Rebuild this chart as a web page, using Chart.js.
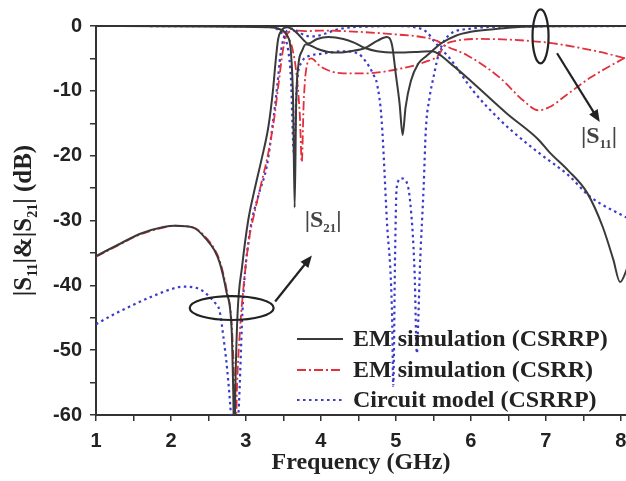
<!DOCTYPE html>
<html>
<head>
<meta charset="utf-8">
<title>S-parameters CSRRP</title>
<script src="https://cdn.jsdelivr.net/npm/chart.js@4.4.1/dist/chart.umd.min.js"></script>
<style>
  html, body { margin: 0; padding: 0; background: #fff; overflow: hidden; }
  #wrap { width: 626px; height: 481px; }
</style>
</head>
<body>
<div id="wrap"><canvas id="chart" width="626" height="481"></canvas></div>
<script>
// ── DATA ─────────────────────────────────────────────────────
const legendLabels = ['EM simulation (CSRRP)', 'EM simulation (CSRR)', 'Circuit model (CSRRP)'];
const xTickValues = [1, 1.5, 2, 2.5, 3, 3.5, 4, 4.5, 5, 5.5, 6, 6.5, 7, 7.5, 8];
const yTickValues = [-60, -55, -50, -45, -40, -35, -30, -25, -20, -15, -10, -5, 0];

// EM simulation (CSRRP) - black solid
const emCsrrpS21Freq = [1, 1.3, 1.6, 1.9, 2.05, 2.3, 2.48, 2.58, 2.65, 2.74, 2.81, 2.83, 2.845, 2.86, 2.89, 2.95, 3.03, 3.12, 3.21, 3.3, 3.36, 3.4, 3.43, 3.48, 3.55, 3.62, 3.7, 3.78, 3.83, 3.95, 4.1, 4.3, 4.45, 4.59, 4.75, 5.0, 5.25, 5.48, 5.75, 6.03, 6.48, 6.9, 7.05, 7.3, 7.55, 7.76, 7.9, 7.99, 8.1];
const emCsrrpS21 = [-35.5, -33.7, -32.0, -31.0, -30.8, -31.1, -33, -34.6, -36.5, -41, -47, -56, -65, -55, -44, -37, -30, -25, -20.5, -15.5, -10, -5, -2, -0.6, -0.2, -0.5, -1.3, -2.3, -2.7, -2.0, -1.7, -2.0, -2.6, -3.4, -3.9, -4.1, -4.0, -3.9, -6, -8.8, -13.5, -17.5, -19.5, -22.3, -25.7, -31, -36, -39.5, -37];
const emCsrrpS11Freq = [1, 3.3, 3.45, 3.55, 3.6, 3.63, 3.65, 3.67, 3.7, 3.75, 3.8, 3.95, 4.1, 4.25, 4.4, 4.59, 4.75, 4.88, 4.95, 5.0, 5.05, 5.09, 5.13, 5.2, 5.3, 5.4, 5.48, 5.6, 5.8, 6.0, 6.3, 6.6, 7.0, 8.1];
const emCsrrpS11 = [0, -0.2, -0.5, -1.5, -4, -12, -28, -12, -6, -3.8, -2.8, -3.5, -4.0, -4.1, -3.9, -3.4, -2.3, -1.7, -3, -7.5, -12, -16.8, -12.5, -8.5, -5.8, -4.7, -3.9, -2.7, -1.5, -0.9, -0.5, -0.2, -0.05, 0];

// EM simulation (CSRR) - red dash-dot
const emCsrrS21Freq = [1, 1.3, 1.6, 1.9, 2.05, 2.3, 2.48, 2.58, 2.65, 2.74, 2.81, 2.84, 2.86, 2.88, 2.92, 2.97, 3.04, 3.12, 3.2, 3.3, 3.38, 3.44, 3.49, 3.53, 3.6, 3.7, 3.8, 4.0, 4.5, 5.0, 5.4, 5.55, 5.65, 5.95, 6.39, 6.7, 6.9, 7.05, 7.28, 7.59, 8.1];
const emCsrrS21 = [-35.6, -33.8, -32.1, -31.1, -30.8, -31.1, -32.8, -34.4, -36.2, -40.5, -46, -54, -65, -56, -47, -40, -33, -28.5, -24.5, -19.5, -14, -8.5, -4, -1.8, -0.8, -0.7, -0.8, -0.7, -0.9, -1.3, -1.8, -2.3, -3, -4.5, -8, -11.5, -13, -12.5, -10.6, -8, -4.6];
const emCsrrS11Freq = [1, 3.3, 3.45, 3.55, 3.62, 3.68, 3.72, 3.745, 3.77, 3.8, 3.87, 4.0, 4.3, 4.6, 5.05, 5.4, 5.57, 5.65, 5.8, 6.1, 6.5, 7.05, 7.72, 8.1];
const emCsrrS11 = [0, -0.1, -0.5, -1.5, -3.5, -8, -14, -21, -12, -7, -5, -6.3, -7.3, -7.3, -6.6, -5.5, -4.5, -3, -2.3, -2.0, -2.1, -2.6, -4, -5.1];

// Circuit model (CSRRP) - blue dotted
const circuitS21Freq = [1, 1.25, 1.5, 1.75, 2.0, 2.16, 2.3, 2.4, 2.5, 2.58, 2.65, 2.7, 2.75, 2.8, 2.84, 2.9, 2.96, 3.05, 3.17, 3.28, 3.37, 3.42, 3.46, 3.5, 3.55, 3.62, 3.7, 3.8, 3.9, 4.05, 4.2, 4.4, 4.6, 5.0, 5.3, 5.42, 5.5, 5.6, 5.72, 6.03, 6.39, 6.56, 6.9, 7.3, 7.59, 8.1];
const circuitS21 = [-46, -44.4, -43, -41.7, -40.6, -40.2, -40.3, -40.7, -41.6, -42.6, -44, -48, -53, -60, -68, -60, -42.6, -32, -26, -21.5, -14, -9, -4.5, -2, -0.7, -0.4, -0.9, -1.5, -1.6, -1.2, -0.6, -0.2, -0.1, 0, -0.3, -1.0, -2.2, -3.5, -5, -10, -14.5, -16.3, -19.5, -23, -26.3, -29.7];
const circuitS11Freq = [1, 3.3, 3.42, 3.5, 3.56, 3.6, 3.64, 3.68, 3.75, 3.85, 4.0, 4.3, 4.5, 4.6, 4.7, 4.75, 4.81, 4.88, 4.95, 4.965, 4.99, 5.01, 5.07, 5.12, 5.19, 5.25, 5.28, 5.3, 5.32, 5.37, 5.4, 5.45, 5.5, 5.58, 5.7, 6.0, 6.5, 8.1];
const circuitS11 = [0, -0.1, -0.5, -1.5, -3.5, -8, -19.5, -9, -5.5, -4.6, -4.3, -3.9, -4.3, -5.5, -7.5, -9, -14.5, -30, -45, -55.5, -35, -25, -23.5, -23.7, -27, -38, -50.5, -45, -37.5, -25, -16, -11, -8, -4, -1.5, -0.4, -0.1, 0];

// ── ESTILOS ───────────────────────────────────────────────────
const axisColor = '#333';
const textColor = '#222';
const colBlack = '#3a3a3a';
const colRed = '#e2303c';
const colBlue = '#3b3bc8';
const serifBold = '"Liberation Serif", "Times New Roman", serif';
const tickFont = { family: '"Liberation Sans", Arial, sans-serif', size: 20, weight: 'bold' };

const pts = (fs, vs) => fs.map((f, i) => ({ x: f, y: vs[i] }));

const lineStyles = [
    { borderColor: colBlack, borderWidth: 2, borderDash: [] },
    { borderColor: colRed, borderWidth: 1.8, borderDash: [9, 3, 2, 3] },
    { borderColor: colBlue, borderWidth: 2.2, borderDash: [2.5, 3.5] }
];

function mkSet(idx, data) {
    return Object.assign({
        label: legendLabels[idx],
        data: data,
        pointRadius: 0,
        fill: false,
        cubicInterpolationMode: 'monotone'
    }, lineStyles[idx]);
}

// annotations in data units (freq GHz, dB)
const s21Ellipse = { f: 2.81, db: -43.5, rf: 0.56, rdb: 1.85 };
const s21Arrow = { f0: 3.39, db0: -42.5, f1: 3.88, db1: -35.4 };
const s21Label = { f: 4.03, db: -30, sub: '21' };
const s11Ellipse = { f: 6.93, db: -1.6, rf: 0.107, rdb: 4.15 };
const s11Arrow = { f0: 7.15, db0: -4.2, f1: 7.72, db1: -14.8 };
const s11Label = { f: 7.71, db: -17.1, sub: '11' };

// draws pieces like [['|S', false], ['21', true], ['|', false]] centred on (x, y)
function drawSubText(ctx, parts, x, y, size) {
    const mainF = 'bold ' + size + 'px ' + serifBold;
    const subF = 'bold ' + Math.round(size * 0.55) + 'px ' + serifBold;
    let w = 0;
    parts.forEach(p => { ctx.font = p[1] ? subF : mainF; w += ctx.measureText(p[0]).width; });
    let cx = x - w / 2;
    ctx.textBaseline = 'middle';
    ctx.textAlign = 'left';
    parts.forEach(p => {
        ctx.font = p[1] ? subF : mainF;
        ctx.fillText(p[0], cx, p[1] ? y + size * 0.32 : y);
        cx += ctx.measureText(p[0]).width;
    });
}

function drawArrow(ctx, x0, y0, x1, y1) {
    const ang = Math.atan2(y1 - y0, x1 - x0);
    const hl = 12, hw = 5;
    ctx.beginPath();
    ctx.moveTo(x0, y0);
    ctx.lineTo(x1 - Math.cos(ang) * hl * 0.8, y1 - Math.sin(ang) * hl * 0.8);
    ctx.stroke();
    ctx.beginPath();
    ctx.moveTo(x1, y1);
    ctx.lineTo(x1 - Math.cos(ang) * hl - Math.sin(ang) * hw, y1 - Math.sin(ang) * hl + Math.cos(ang) * hw);
    ctx.lineTo(x1 - Math.cos(ang) * hl + Math.sin(ang) * hw, y1 - Math.sin(ang) * hl - Math.cos(ang) * hw);
    ctx.closePath();
    ctx.fill();
}

const overlay = {
    id: 'overlay',
    afterDatasetsDraw(chart) {
        const { ctx, chartArea: a, scales: { x, y } } = chart;
        ctx.save();

        // marco superior
        ctx.strokeStyle = axisColor;
        ctx.lineWidth = 2;
        ctx.beginPath();
        ctx.moveTo(a.left, a.top);
        ctx.lineTo(a.right, a.top);
        ctx.stroke();

        // elipses + flechas
        ctx.strokeStyle = '#222';
        ctx.fillStyle = '#222';
        ctx.lineWidth = 2.2;
        [s21Ellipse, s11Ellipse].forEach(e => {
            const cx = x.getPixelForValue(e.f), cy = y.getPixelForValue(e.db);
            const rx = Math.abs(x.getPixelForValue(e.f + e.rf) - cx);
            const ry = Math.abs(y.getPixelForValue(e.db + e.rdb) - cy);
            ctx.beginPath();
            ctx.ellipse(cx, cy, rx, ry, 0, 0, Math.PI * 2);
            ctx.stroke();
        });
        [s21Arrow, s11Arrow].forEach(r => {
            drawArrow(ctx, x.getPixelForValue(r.f0), y.getPixelForValue(r.db0),
                x.getPixelForValue(r.f1), y.getPixelForValue(r.db1));
        });

        // etiquetas |S21| y |S11|
        ctx.fillStyle = '#444';
        [s21Label, s11Label].forEach(l => {
            drawSubText(ctx, [['|S', false], [l.sub, true], ['|', false]],
                x.getPixelForValue(l.f), y.getPixelForValue(l.db), 24);
        });

        // leyenda
        const lx0 = a.left + 201, lx1 = lx0 + 46, tx = lx0 + 56;
        const rowY = [a.top + 313, a.top + 344, a.top + 374];
        legendLabels.forEach((lab, i) => {
            const st = lineStyles[i];
            ctx.strokeStyle = st.borderColor;
            ctx.lineWidth = st.borderWidth;
            ctx.setLineDash(st.borderDash);
            ctx.beginPath();
            ctx.moveTo(lx0, rowY[i]);
            ctx.lineTo(lx1, rowY[i]);
            ctx.stroke();
            ctx.setLineDash([]);
            ctx.fillStyle = textColor;
            ctx.font = 'bold 24px ' + serifBold;
            ctx.textAlign = 'left';
            ctx.textBaseline = 'middle';
            ctx.fillText(lab, tx, rowY[i] + 1);
        });

        // título eje Y
        ctx.fillStyle = textColor;
        ctx.translate(25, (a.top + a.bottom) / 2);
        ctx.rotate(-Math.PI / 2);
        drawSubText(ctx, [['|S', false], ['11', true], ['|&|S', false], ['21', true], ['| (dB)', false]], 0, 0, 25);
        ctx.restore();
    }
};

new Chart(document.getElementById('chart'), {
    type: 'line',
    data: {
        datasets: [
            mkSet(0, pts(emCsrrpS21Freq, emCsrrpS21)),
            mkSet(0, pts(emCsrrpS11Freq, emCsrrpS11)),
            mkSet(1, pts(emCsrrS21Freq, emCsrrS21)),
            mkSet(1, pts(emCsrrS11Freq, emCsrrS11)),
            mkSet(2, pts(circuitS21Freq, circuitS21)),
            mkSet(2, pts(circuitS11Freq, circuitS11))
        ]
    },
    options: {
        responsive: false,
        animation: false,
        layout: { padding: { top: 26, right: 0, bottom: 0, left: 0 } },
        plugins: { legend: { display: false }, tooltip: { enabled: false } },
        scales: {
            x: {
                type: 'linear',
                min: 1,
                max: 8.07,
                afterBuildTicks: s => { s.ticks = xTickValues.map(v => ({ value: v })); },
                afterFit: s => { s.height = 66; s.paddingLeft = 0; s.paddingRight = 0; },
                ticks: {
                    callback: v => Number.isInteger(v) ? v : '',
                    font: tickFont, color: textColor, padding: 8,
                    maxRotation: 0, autoSkip: false
                },
                grid: { drawOnChartArea: false, drawTicks: true, tickLength: 6, color: axisColor, lineWidth: 1.5 },
                border: { display: true, color: axisColor, width: 2 },
                title: {
                    display: true, text: 'Frequency (GHz)', color: textColor,
                    font: { family: serifBold, size: 24, weight: 'bold' },
                    padding: { top: 0, bottom: 4 }
                }
            },
            y: {
                min: -60,
                max: 0,
                afterBuildTicks: s => { s.ticks = yTickValues.map(v => ({ value: v })); },
                afterFit: s => { s.width = 96; s.paddingTop = 0; s.paddingBottom = 0; },
                ticks: {
                    callback: v => v % 10 === 0 ? v : '',
                    font: tickFont, color: textColor, padding: 8
                },
                grid: { drawOnChartArea: false, drawTicks: true, tickLength: 6, color: axisColor, lineWidth: 1.5 },
                border: { display: true, color: axisColor, width: 2 }
            }
        }
    },
    plugins: [overlay]
});
</script>
</body>
</html>
